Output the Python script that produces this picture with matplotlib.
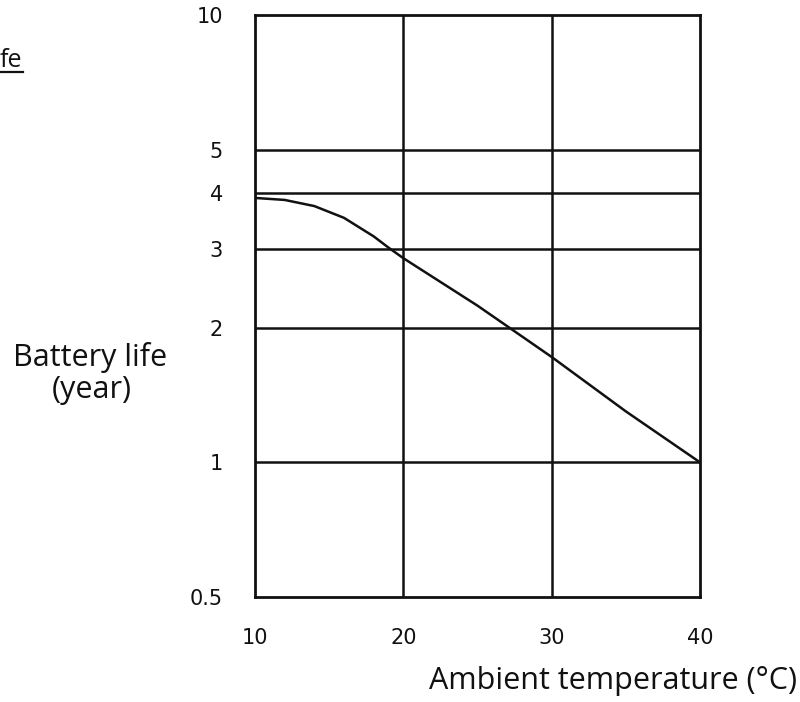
import matplotlib
matplotlib.use("Agg")
import matplotlib.pyplot as plt
from matplotlib.lines import Line2D

# Ambient temperature (°C) vs expected battery life (years)
temperature = [10, 12, 14, 16, 18, 19, 20, 25, 30, 35, 40]
battery_life = [3.9, 3.86, 3.74, 3.52, 3.2, 3.02, 2.86, 2.24, 1.72, 1.3, 1.0]

x_ticks = [10, 20, 30, 40]
x_tick_labels = ["10", "20", "30", "40"]
y_ticks = [0.5, 1, 2, 3, 4, 5, 10]
y_tick_labels = ["0.5", "1", "2", "3", "4", "5", "10"]
y_grid = [1, 2, 3, 4, 5]
x_grid = [20, 30]

ink = "#111111"
label_font = "Open Sans"
W, H = 800, 702


def fx(px):
    return px / W


def fy(py):
    return 1 - py / H


fig = plt.figure(figsize=(8, 7.02), dpi=100)
ax = fig.add_axes([fx(255), fy(597), fx(700) - fx(255), fy(15) - fy(597)])

ax.set_yscale("log")
ax.set_xlim(10, 40)
ax.set_ylim(0.5, 10)

for v in y_grid:
    ax.axhline(v, color=ink, lw=1.8, zorder=1)
for v in x_grid:
    ax.axvline(v, color=ink, lw=1.8, zorder=1)

ax.plot(temperature, battery_life, color=ink, lw=1.8, zorder=2)

for s in ax.spines.values():
    s.set_linewidth(2.0)
    s.set_color(ink)

ax.set_xticks(x_ticks)
ax.set_xticklabels(x_tick_labels, fontsize=15, fontfamily="DejaVu Sans")
ax.set_yticks(y_ticks)
ax.set_yticklabels(y_tick_labels, fontsize=15, fontfamily="DejaVu Sans")
ax.minorticks_off()
ax.tick_params(axis="both", length=0, colors=ink)
ax.tick_params(axis="x", pad=22)
ax.tick_params(axis="y", pad=23)

# Axis titles
fig.text(fx(90), fy(366), "Battery life", ha="center", va="baseline",
         fontsize=22, fontfamily=label_font, color=ink)
fig.text(fx(92), fy(398), "(year)", ha="center", va="baseline",
         fontsize=22, fontfamily=label_font, color=ink)
fig.text(fx(797), fy(689), "Ambient temperature (°C)", ha="right", va="baseline",
         fontsize=22, fontfamily=label_font, color=ink)

# Underlined heading fragment at the top-left edge
fig.text(fx(0), fy(67), "fe", ha="left", va="baseline",
         fontsize=18, fontfamily=label_font, color=ink)
fig.add_artist(Line2D([fx(0), fx(23)], [fy(72), fy(72)],
                      transform=fig.transFigure, color=ink, lw=1.6))

fig.savefig("out.png", dpi=100, facecolor="white")
